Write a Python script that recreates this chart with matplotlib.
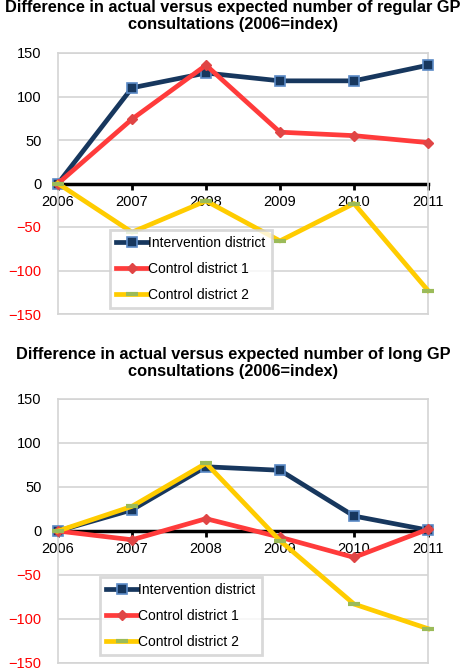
import matplotlib.pyplot as plt

plt.rcParams['font.family'] = ['Liberation Sans', 'DejaVu Sans']

years = [2006, 2007, 2008, 2009, 2010, 2011]
labels = ["Intervention district", "Control district 1", "Control district 2"]

regular_intervention = [0, 110, 127, 118, 118, 136]
regular_control1 = [0, 74, 136, 59, 55, 47]
regular_control2 = [0, -56, -20, -66, -23, -123]

long_intervention = [0, 24, 73, 69, 17, 1]
long_control1 = [0, -10, 14, -7, -30, 2]
long_control2 = [0, 28, 77, -11, -83, -111]

yticks = [-150, -100, -50, 0, 50, 100, 150]

titles = [
    "Difference in actual versus expected number of regular GP\nconsultations (2006=index)",
    "Difference in actual versus expected number of long GP\nconsultations (2006=index)",
]

W, H = 466, 669


def draw(ax, series, legend_xy):
    ax.set_xlim(years[0], years[-1])
    ax.set_ylim(-150, 150)
    ax.set_yticks(yticks)
    ax.set_xticks(years)
    ax.set_xticklabels([str(y) for y in years])
    ax.grid(axis='y', color='#d4d4d4', lw=1.2)
    ax.set_axisbelow(True)

    ax.plot(years, series[0], color='#17375e', lw=3.4, marker='s', ms=7.5,
            mfc='#17375e', mec='#5b8ac6', mew=1.2, clip_on=False, zorder=3,
            label=labels[0])
    ax.plot(years, series[1], color='#ff3b3b', lw=3.4, marker='D', ms=5.5,
            mfc='#e04545', mec='#e04545', clip_on=False, zorder=4,
            label=labels[1])
    ax.plot(years, series[2], color='#ffcc00', lw=3.4, marker='_', ms=8,
            mec='#9bbb59', mew=3, clip_on=False, zorder=5, label=labels[2])

    for s in ['left', 'right', 'top']:
        ax.spines[s].set_color('#d4d4d4')
        ax.spines[s].set_linewidth(1.2)
    ax.spines['bottom'].set_position(('data', 0))
    ax.spines['bottom'].set_color('black')
    ax.spines['bottom'].set_linewidth(2.5)
    ax.spines['bottom'].set_zorder(2)
    ax.axhline(-150, color='#d4d4d4', lw=1.2, clip_on=False)

    ax.tick_params(axis='x', direction='out', length=4, width=2,
                   color='black', labelsize=10.5, pad=4)
    ax.tick_params(axis='y', length=0, labelsize=10.5, pad=12)
    for t, v in zip(ax.get_yticklabels(), yticks):
        t.set_color('red' if v < 0 else 'black')

    leg = ax.legend(loc='upper left', bbox_to_anchor=legend_xy, fontsize=10,
                    frameon=True, fancybox=False, edgecolor='#d0d0d0',
                    handlelength=2.2, handletextpad=0.1, labelspacing=0.85,
                    borderpad=0.45, borderaxespad=0)
    leg.get_frame().set_linewidth(2)
    leg.set_zorder(6)


fig = plt.figure(figsize=(W / 100, H / 100), dpi=100)

ax1 = fig.add_axes([58 / W, 1 - 314 / H, 370 / W, 261 / H])
draw(ax1, [regular_intervention, regular_control1, regular_control2],
     (0.1405, 0.322))
fig.text(0.5, 1 - 16 / H, titles[0], ha='center', va='center',
         fontsize=11.8, fontweight='bold', linespacing=1.15)

ax2 = fig.add_axes([58 / W, 1 - 663 / H, 370 / W, 264 / H])
draw(ax2, [long_intervention, long_control1, long_control2],
     (0.1135, 0.326))
fig.text(0.5, 1 - 363 / H, titles[1], ha='center', va='center',
         fontsize=11.8, fontweight='bold', linespacing=1.15)

fig.savefig('out.png', dpi=100)
